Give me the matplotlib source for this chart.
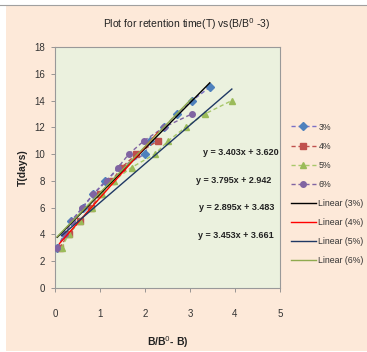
import matplotlib.pyplot as plt
from matplotlib.patches import Rectangle
from matplotlib.lines import Line2D
import numpy as np

plt.rcParams['font.family'] = ['Liberation Sans Narrow', 'Liberation Sans', 'DejaVu Sans']

# retention time T (days) and B/B0 - B for each concentration
t_3 = [3, 4, 5, 6, 7, 8, 9, 10, 11, 12, 13, 14, 15]
x_3 = [0.05, 0.2, 0.35, 0.62, 0.85, 1.12, 1.45, 2.0, 2.1, 2.42, 2.7, 3.05, 3.44]
t_4 = [3, 4, 5, 6, 7, 8, 9, 10, 11]
x_4 = [0.1, 0.3, 0.55, 0.8, 1.0, 1.26, 1.48, 1.81, 2.29]
t_5 = [3, 4, 5, 6, 7, 8, 9, 10, 11, 12, 13, 14]
x_5 = [0.15, 0.3, 0.55, 0.82, 1.05, 1.3, 1.7, 2.22, 2.52, 2.9, 3.33, 3.93]
t_6 = [3, 4, 5, 6, 7, 8, 9, 10, 11, 12, 13]
x_6 = [0.05, 0.22, 0.38, 0.6, 0.85, 1.15, 1.4, 1.64, 1.98, 2.42, 3.04]

labels = ["3%", "4%", "5%", "6%"]
slopes = [3.403, 3.795, 2.895, 3.453]
intercepts = [3.620, 2.942, 3.483, 3.661]
eq_text = ["y = 3.403x + 3.620", "y = 3.795x + 2.942", "y = 2.895x + 3.483", "y = 3.453x + 3.661"]

xs = [x_3, x_4, x_5, x_6]
ts = [t_3, t_4, t_5, t_6]
line_cols = ["#7b6fc6", "#c0504d", "#a8c86a", "#8064a2"]
mark_cols = ["#4f81bd", "#c0504d", "#9bbb59", "#8064a2"]
markers = ["D", "s", "^", "o"]
trend_cols = ["#000000", "#ff0000", "#1f3864", "#8faa4f"]

fig = plt.figure(figsize=(3.67, 3.52), dpi=100)
fig.patch.set_facecolor("white")
W, H = 367, 352
fig.patches.append(Rectangle((6 / W, 1 / H), (W - 6) / W, (H - 6) / H,
                             transform=fig.transFigure, facecolor="#fde9d9",
                             edgecolor="none", zorder=-10))
fig.lines.append(Line2D([0, 1], [1 - 5 / H, 1 - 5 / H], transform=fig.transFigure,
                        color="#a0a0a0", lw=0.8, zorder=-5))

ax = fig.add_axes([55 / W, 1 - 288 / H, 225 / W, 241 / H])
ax.set_zorder(2)
ax.set_facecolor("#ebf1de")

handles = []
for x, t, lab, lc, mc, mk in zip(xs, ts, labels, line_cols, mark_cols, markers):
    h, = ax.plot(x, t, ls=(0, (3, 2)), color=lc, lw=1.0, marker=mk, ms=4,
                 mfc=mc, mec=mc, label=lab, zorder=3)
    handles.append(h)

for x, m, b, lab, c in zip(xs, slopes, intercepts, labels, trend_cols):
    xx = np.array([min(x), max(x)])
    h, = ax.plot(xx, m * xx + b, color=c, lw=1.0, label=f"Linear ({lab})", zorder=4)
    handles.append(h)

eq_pos = [(0.827, 0.564), (0.796, 0.448), (0.809, 0.332), (0.804, 0.216)]
for (px, py), s in zip(eq_pos, eq_text):
    ax.text(px, py, s, transform=ax.transAxes, ha="center", va="center",
            fontsize=6.5, fontweight="bold", color="#222222")

ax.set_xlim(0, 5)
ax.set_ylim(0, 18)
ax.set_xticks(range(0, 6))
ax.set_yticks(range(0, 19, 2))
ax.tick_params(direction="out", length=3, width=0.6, color="#888888",
               labelsize=7, labelcolor="#333333", pad=4)
ax.tick_params(axis="x", pad=12)
for sp in ax.spines.values():
    sp.set_color("#999999")
    sp.set_linewidth(0.8)

ax.set_xlabel("B/B$^0$- B)", fontsize=7.5, fontweight="bold", labelpad=11, color="#222222")
ax.set_ylabel("T(days)", fontsize=7.5, fontweight="bold", labelpad=5, color="#222222")
fig.text(187 / W, 1 - 24 / H, "Plot for retention time(T) vs(B/B$^0$ -3)",
         ha="center", va="center", fontsize=7.5, color="#222222")

fig.legend(handles=handles, loc="upper left", bbox_to_anchor=(287 / W, 1 - 119 / H),
           frameon=False, fontsize=6.3, handlelength=2.9, handletextpad=0.3,
           labelspacing=1.15, borderaxespad=0, labelcolor="#333333")

fig.savefig("out.png", dpi=100, facecolor=fig.get_facecolor())
